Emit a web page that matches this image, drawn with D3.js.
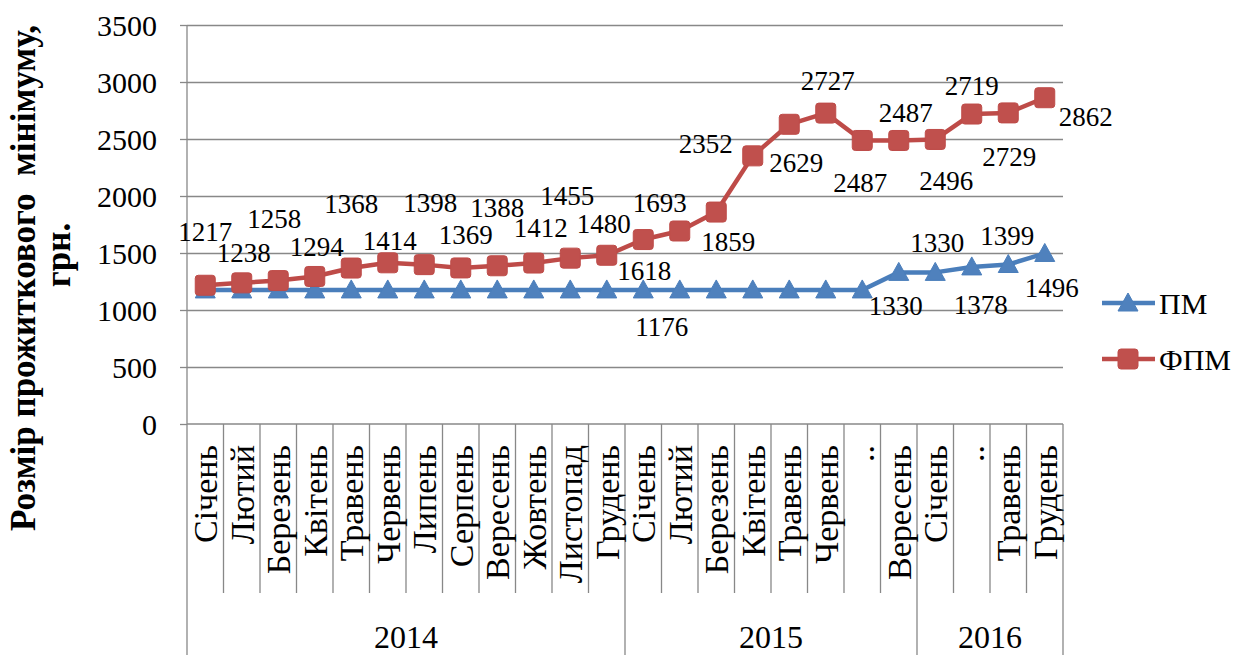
<!DOCTYPE html>
<html><head><meta charset="utf-8">
<script src="https://cdn.jsdelivr.net/npm/d3@7"></script>
<style>
body{margin:0;background:#fff}
svg{display:block}
svg text{font-family:"Liberation Serif","Times New Roman",serif;fill:#000}
</style>
</head><body>
<svg id="c" width="1251" height="655"></svg>
<script>
// ---- data ----
const months = ["Січень","Лютий","Березень","Квітень","Травень","Червень","Липень","Серпень","Вересень","Жовтень","Листопад","Грудень",
                "Січень","Лютий","Березень","Квітень","Травень","Червень","..","Вересень",
                "Січень","..","Травень","Грудень"];
const monthYear = ["2014","2014","2014","2014","2014","2014","2014","2014","2014","2014","2014","2014",
                   "2015","2015","2015","2015","2015","2015","2015","2015",
                   "2016","2016","2016","2016"];
const years = ["2014","2015","2016"];
const pm  = [1176,1176,1176,1176,1176,1176,1176,1176,1176,1176,1176,1176,
             1176,1176,1176,1176,1176,1176,1176,1330,
             1330,1378,1399,1496];
const fpm = [1217,1238,1258,1294,1368,1414,1398,1369,1388,1412,1455,1480,
             1618,1693,1859,2352,2629,2727,2487,2487,
             2496,2719,2729,2862];
const yTicks = [0,500,1000,1500,2000,2500,3000,3500];
const seriesNames = ["ПМ","ФПМ"];
const yTitleLines = ["Розмір прожиткового  мінімуму,","грн."];

// ---- label placement (layout only) ----
const fpmLabelOff = [[0,-54],[2,-30],[-4,-62],[2,-30],[0,-64],[2,-22],[6,-62],[5,-33],[0,-58],[7,-35],[-3,-63],[-3,-32],
                     [1,31],[-20,-28],[12,29],[-47,-12],[7,38],[2,-33],[-2,42],[7,-28],
                     [11,41],[0,-28],[1,44],[41,19]];
const pmLabelOff = [null,null,null,null,null,null,null,null,null,null,null,null,
                    null,[-18,37],null,null,null,null,null,[-3,33],
                    [2,-30],[9,38],[-1,-29],[7,34]];

// ---- layout ----
const L = 187, R = 1063, T = 25, B = 424, monthBottom = 593, H = 655;
const blue = "#4A7EBB", blueM = "#4F81BD", red = "#BE4B48", redM = "#C0504D", grid = "#888888";
const SERIF = '"Liberation Serif","Times New Roman",serif';

const svg = d3.select("#c");
const x = d3.scaleBand().domain(d3.range(months.length)).range([L, R]);
const y = d3.scaleLinear().domain([0, 3500]).range([B, T]);
const cx = i => x(i) + x.bandwidth() / 2;

// gridlines
svg.append("g").attr("transform", `translate(${L},0)`)
  .call(d3.axisLeft(y).tickValues(yTicks.filter(v => v > 0)).tickSize(-(R - L)).tickFormat(""))
  .call(g => g.select(".domain").remove())
  .call(g => g.selectAll("line").attr("stroke", grid).attr("stroke-width", 1.3));

// y axis
const ya = svg.append("g").attr("transform", `translate(${L},0)`)
  .call(d3.axisLeft(y).tickValues(yTicks).tickSize(7).tickPadding(23).tickFormat(d3.format("d")));
ya.attr("font-family", SERIF).attr("font-size", 30);
ya.select(".domain").remove();
ya.selectAll("line").attr("stroke", grid).attr("stroke-width", 1.3);
ya.selectAll("text").attr("fill", "#000").attr("dy", "0.35em");

// axis frame lines
svg.append("line").attr("x1", L).attr("x2", L).attr("y1", T).attr("y2", H).attr("stroke", grid).attr("stroke-width", 1.3);
svg.append("line").attr("x1", L).attr("x2", R).attr("y1", B).attr("y2", B).attr("stroke", grid).attr("stroke-width", 1.3);
svg.append("line").attr("x1", R).attr("x2", R).attr("y1", B).attr("y2", H).attr("stroke", grid).attr("stroke-width", 1.3);

// category dividers
const idx = d3.range(1, months.length);
svg.append("g").selectAll("line").data(idx).join("line")
  .attr("x1", i => x(i)).attr("x2", i => x(i))
  .attr("y1", B).attr("y2", i => monthYear[i] !== monthYear[i - 1] ? H : monthBottom)
  .attr("stroke", grid).attr("stroke-width", 1.3);

// month labels
svg.append("g").selectAll("text").data(months).join("text")
  .attr("transform", (d, i) => `translate(${cx(i)},${B + 21}) rotate(-90)`)
  .attr("text-anchor", "end").attr("dy", "0.35em")
  .attr("font-size", 34).text(d => d);

// year labels
svg.append("g").selectAll("text").data(years).join("text")
  .attr("x", yr => {
    const ids = d3.range(months.length).filter(i => monthYear[i] === yr);
    return (x(ids[0]) + x(ids[ids.length - 1]) + x.bandwidth()) / 2;
  })
  .attr("y", 637).attr("dy", "0.35em").attr("text-anchor", "middle")
  .attr("font-size", 32).text(d => d);

// y title
svg.append("text").attr("transform", "translate(35,278) rotate(-90)")
  .attr("text-anchor", "middle").attr("font-weight", "bold").attr("font-size", 35)
  .style("white-space", "pre").text(yTitleLines[0]);
svg.append("text").attr("transform", "translate(70,255) rotate(-90)")
  .attr("text-anchor", "middle").attr("font-weight", "bold").attr("font-size", 35)
  .text(yTitleLines[1]);

// lines
const line = d3.line().x((d, i) => cx(i)).y(d => y(d));
svg.append("path").datum(pm).attr("d", line).attr("fill", "none").attr("stroke", blue).attr("stroke-width", 4.5).attr("stroke-linejoin", "round");
const tri = (px, py) => `M${px},${py - 10}L${px + 10},${py + 8}L${px - 10},${py + 8}Z`;
svg.append("g").selectAll("path").data(pm).join("path")
  .attr("d", (d, i) => tri(cx(i), y(d))).attr("fill", blueM).attr("stroke", blue).attr("stroke-width", 1);

svg.append("path").datum(fpm).attr("d", line).attr("fill", "none").attr("stroke", red).attr("stroke-width", 4.5).attr("stroke-linejoin", "round");
svg.append("g").selectAll("rect").data(fpm).join("rect")
  .attr("x", (d, i) => cx(i) - 10).attr("y", d => y(d) - 10).attr("width", 20).attr("height", 20)
  .attr("rx", 3).attr("fill", redM).attr("stroke", red).attr("stroke-width", 1);

// data labels
svg.append("g").selectAll("text").data(fpm).join("text")
  .attr("x", (d, i) => cx(i) + fpmLabelOff[i][0]).attr("y", (d, i) => y(d) + fpmLabelOff[i][1])
  .attr("dy", "0.35em").attr("text-anchor", "middle").attr("font-size", 27).text(d => d);
svg.append("g").selectAll("text").data(pm.map((v, i) => ({v, i})).filter(d => pmLabelOff[d.i])).join("text")
  .attr("x", d => cx(d.i) + pmLabelOff[d.i][0]).attr("y", d => y(d.v) + pmLabelOff[d.i][1])
  .attr("dy", "0.35em").attr("text-anchor", "middle").attr("font-size", 27).text(d => d.v);

// legend
const lg = svg.append("g");
const legY = [303, 359];
lg.append("line").attr("x1", 1102).attr("x2", 1155).attr("y1", legY[0]).attr("y2", legY[0]).attr("stroke", blue).attr("stroke-width", 4.5);
lg.append("path").attr("d", tri(1128, legY[0])).attr("fill", blueM).attr("stroke", blue);
lg.append("line").attr("x1", 1102).attr("x2", 1155).attr("y1", legY[1]).attr("y2", legY[1]).attr("stroke", red).attr("stroke-width", 4.5);
lg.append("rect").attr("x", 1118).attr("y", legY[1] - 10).attr("width", 20).attr("height", 20).attr("rx", 3).attr("fill", redM).attr("stroke", red);
lg.selectAll("text").data(seriesNames).join("text")
  .attr("x", 1159).attr("y", (d, i) => legY[i]).attr("dy", "0.35em").attr("font-size", 30).text(d => d);

svg.selectAll("text").style("font-family", SERIF);
</script>
</body></html>
